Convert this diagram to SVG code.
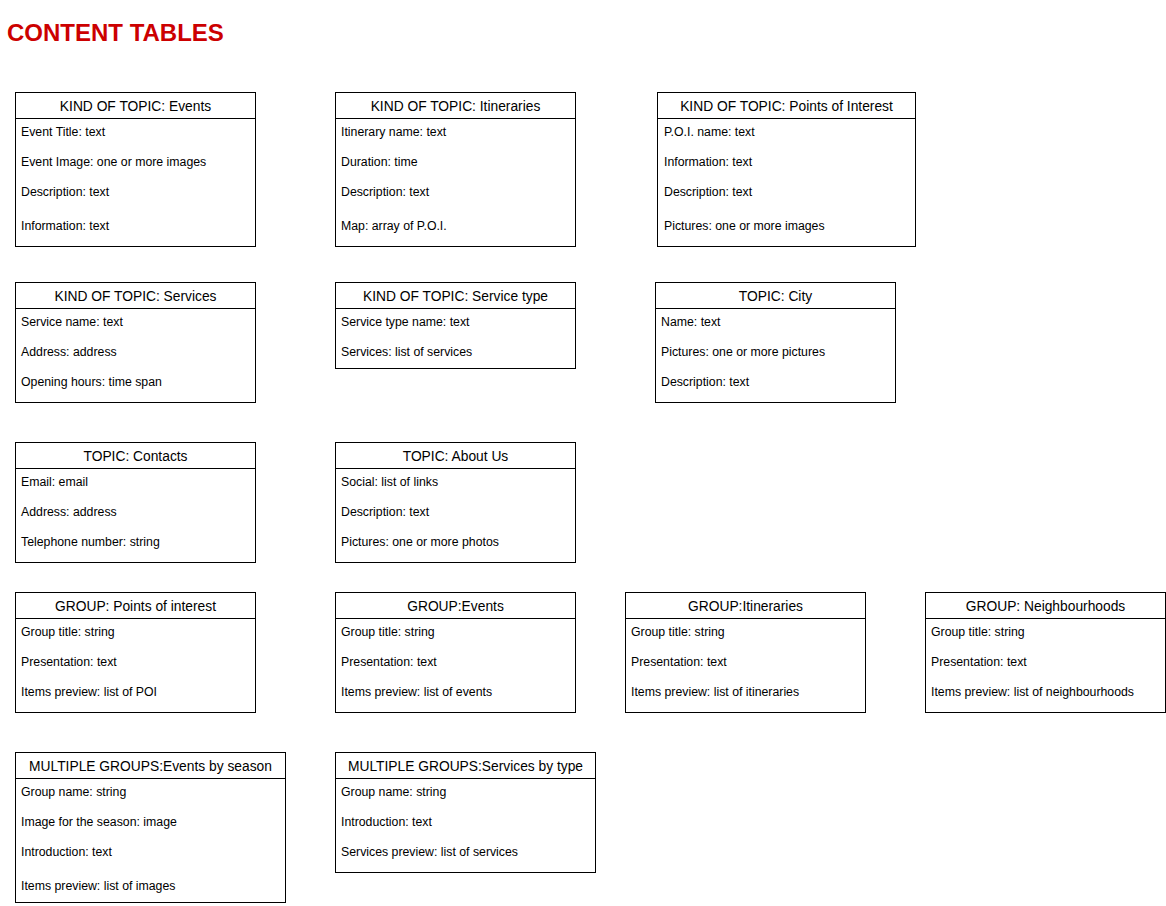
<svg xmlns="http://www.w3.org/2000/svg" width="1166" height="906" viewBox="0 0 1166 906">
<style>
.box{fill:#fff;stroke:#000;stroke-width:1}
.hl{stroke:#000;stroke-width:1}
.h{font-family:"Liberation Sans",Arial,sans-serif;font-size:13.8px;fill:#000;text-anchor:middle}
.f{font-family:"Liberation Sans",Arial,sans-serif;font-size:12.3px;fill:#000}
.title{font-family:"Liberation Sans",Arial,sans-serif;font-size:24px;font-weight:bold;fill:#CC0000}
</style>
<rect width="1166" height="906" fill="#fff"/>
<text class="title" x="7" y="41">CONTENT TABLES</text>
<g id="connectors"></g>

<g id="kt-events">
<rect class="box" x="15.5" y="92.5" width="240" height="154"/>
<line class="hl" x1="15.5" y1="118.5" x2="255.5" y2="118.5"/>
<text class="h" x="135.5" y="111">KIND OF TOPIC: Events</text>
<text class="f" x="21" y="136">Event Title: text</text>
<text class="f" x="21" y="166">Event Image: one or more images</text>
<text class="f" x="21" y="196">Description: text</text>
<text class="f" x="21" y="230">Information: text</text>
</g>

<g id="kt-itineraries">
<rect class="box" x="335.5" y="92.5" width="240" height="154"/>
<line class="hl" x1="335.5" y1="118.5" x2="575.5" y2="118.5"/>
<text class="h" x="455.5" y="111">KIND OF TOPIC: Itineraries</text>
<text class="f" x="341" y="136">Itinerary name: text</text>
<text class="f" x="341" y="166">Duration: time</text>
<text class="f" x="341" y="196">Description: text</text>
<text class="f" x="341" y="230">Map: array of P.O.I.</text>
</g>

<g id="kt-poi">
<rect class="box" x="657.5" y="92.5" width="258" height="154"/>
<line class="hl" x1="657.5" y1="118.5" x2="915.5" y2="118.5"/>
<text class="h" x="786.5" y="111">KIND OF TOPIC: Points of Interest</text>
<text class="f" x="664" y="136">P.O.I. name: text</text>
<text class="f" x="664" y="166">Information: text</text>
<text class="f" x="664" y="196">Description: text</text>
<text class="f" x="664" y="230">Pictures: one or more images</text>
</g>

<g id="kt-services">
<rect class="box" x="15.5" y="282.5" width="240" height="120"/>
<line class="hl" x1="15.5" y1="308.5" x2="255.5" y2="308.5"/>
<text class="h" x="135.5" y="301">KIND OF TOPIC: Services</text>
<text class="f" x="21" y="326">Service name: text</text>
<text class="f" x="21" y="356">Address: address</text>
<text class="f" x="21" y="386">Opening hours: time span</text>
</g>

<g id="kt-service-type">
<rect class="box" x="335.5" y="282.5" width="240" height="86"/>
<line class="hl" x1="335.5" y1="308.5" x2="575.5" y2="308.5"/>
<text class="h" x="455.5" y="301">KIND OF TOPIC: Service type</text>
<text class="f" x="341" y="326">Service type name: text</text>
<text class="f" x="341" y="356">Services: list of services</text>
</g>

<g id="topic-city">
<rect class="box" x="655.5" y="282.5" width="240" height="120"/>
<line class="hl" x1="655.5" y1="308.5" x2="895.5" y2="308.5"/>
<text class="h" x="775.5" y="301">TOPIC: City</text>
<text class="f" x="661" y="326">Name: text</text>
<text class="f" x="661" y="356">Pictures: one or more pictures</text>
<text class="f" x="661" y="386">Description: text</text>
</g>

<g id="topic-contacts">
<rect class="box" x="15.5" y="442.5" width="240" height="120"/>
<line class="hl" x1="15.5" y1="468.5" x2="255.5" y2="468.5"/>
<text class="h" x="135.5" y="461">TOPIC: Contacts</text>
<text class="f" x="21" y="486">Email: email</text>
<text class="f" x="21" y="516">Address: address</text>
<text class="f" x="21" y="546">Telephone number: string</text>
</g>

<g id="topic-about">
<rect class="box" x="335.5" y="442.5" width="240" height="120"/>
<line class="hl" x1="335.5" y1="468.5" x2="575.5" y2="468.5"/>
<text class="h" x="455.5" y="461">TOPIC: About Us</text>
<text class="f" x="341" y="486">Social: list of links</text>
<text class="f" x="341" y="516">Description: text</text>
<text class="f" x="341" y="546">Pictures: one or more photos</text>
</g>

<g id="group-poi">
<rect class="box" x="15.5" y="592.5" width="240" height="120"/>
<line class="hl" x1="15.5" y1="618.5" x2="255.5" y2="618.5"/>
<text class="h" x="135.5" y="611">GROUP: Points of interest</text>
<text class="f" x="21" y="636">Group title: string</text>
<text class="f" x="21" y="666">Presentation: text</text>
<text class="f" x="21" y="696">Items preview: list of POI</text>
</g>

<g id="group-events">
<rect class="box" x="335.5" y="592.5" width="240" height="120"/>
<line class="hl" x1="335.5" y1="618.5" x2="575.5" y2="618.5"/>
<text class="h" x="455.5" y="611">GROUP:Events</text>
<text class="f" x="341" y="636">Group title: string</text>
<text class="f" x="341" y="666">Presentation: text</text>
<text class="f" x="341" y="696">Items preview: list of events</text>
</g>

<g id="group-itineraries">
<rect class="box" x="625.5" y="592.5" width="240" height="120"/>
<line class="hl" x1="625.5" y1="618.5" x2="865.5" y2="618.5"/>
<text class="h" x="745.5" y="611">GROUP:Itineraries</text>
<text class="f" x="631" y="636">Group title: string</text>
<text class="f" x="631" y="666">Presentation: text</text>
<text class="f" x="631" y="696">Items preview: list of itineraries</text>
</g>

<g id="group-neighbourhoods">
<rect class="box" x="925.5" y="592.5" width="240" height="120"/>
<line class="hl" x1="925.5" y1="618.5" x2="1165.5" y2="618.5"/>
<text class="h" x="1045.5" y="611">GROUP: Neighbourhoods</text>
<text class="f" x="931" y="636">Group title: string</text>
<text class="f" x="931" y="666">Presentation: text</text>
<text class="f" x="931" y="696">Items preview: list of neighbourhoods</text>
</g>

<g id="multi-events-season">
<rect class="box" x="15.5" y="752.5" width="270" height="150"/>
<line class="hl" x1="15.5" y1="778.5" x2="285.5" y2="778.5"/>
<text class="h" x="150.5" y="771">MULTIPLE GROUPS:Events by season</text>
<text class="f" x="21" y="796">Group name: string</text>
<text class="f" x="21" y="826">Image for the season: image</text>
<text class="f" x="21" y="856">Introduction: text</text>
<text class="f" x="21" y="890">Items preview: list of images</text>
</g>

<g id="multi-services-type">
<rect class="box" x="335.5" y="752.5" width="260" height="120"/>
<line class="hl" x1="335.5" y1="778.5" x2="595.5" y2="778.5"/>
<text class="h" x="465.5" y="771">MULTIPLE GROUPS:Services by type</text>
<text class="f" x="341" y="796">Group name: string</text>
<text class="f" x="341" y="826">Introduction: text</text>
<text class="f" x="341" y="856">Services preview: list of services</text>
</g>
</svg>
